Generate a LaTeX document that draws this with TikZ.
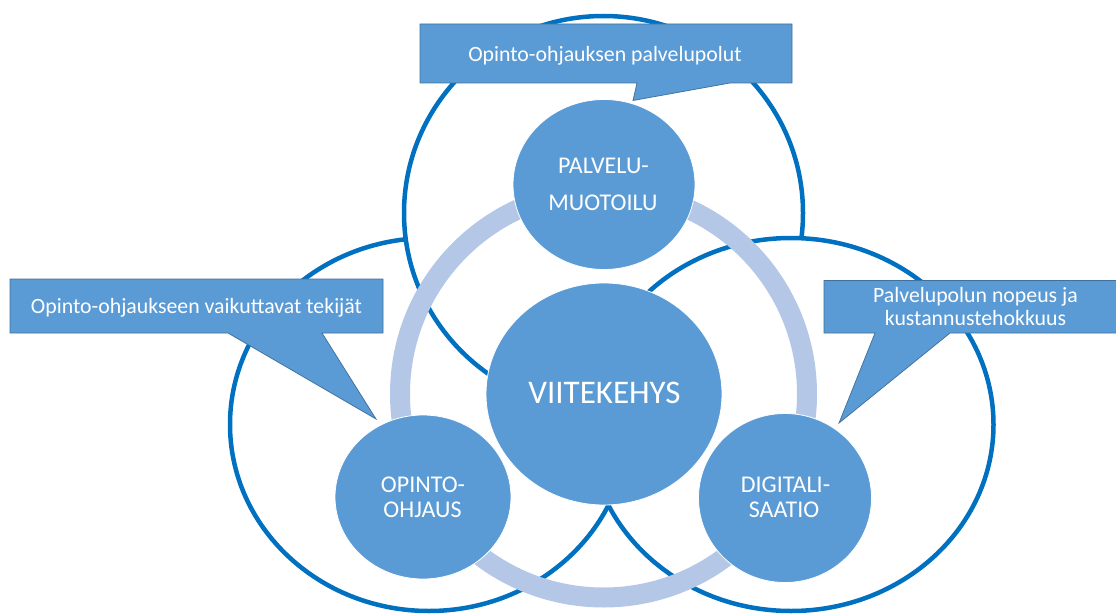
\documentclass[tikz,border=0pt]{standalone}
\usepackage{fontspec}
\setmainfont{Carlito}
\usetikzlibrary{shapes.geometric}
\definecolor{outl}{HTML}{0070C0}
\definecolor{fillb}{HTML}{5B9BD5}
\definecolor{ringc}{HTML}{B4C7E7}
\definecolor{callb}{HTML}{41719C}
\begin{document}
\begin{tikzpicture}[x=1pt,y=-1pt,
  outline/.style={ellipse, draw=outl, line width=4.5pt, fill=white, inner sep=0pt, outer sep=0pt},
  disc/.style={ellipse, fill=fillb, draw=white, line width=0.8pt, inner sep=0pt, outer sep=0pt},
  lbl/.style={text=white, anchor=base, inner sep=0pt, font=\fontsize{24}{28}\selectfont},
  biglbl/.style={text=white, anchor=base, inner sep=0pt, font=\fontsize{33}{38}\selectfont},
  callout/.style={fill=fillb, draw=callb, line width=0.75pt, line join=miter},
  ctext/.style={text=white, anchor=base, inner sep=0pt, font=\fontsize{21.8}{26}\selectfont}]
\useasboundingbox (0,0) rectangle (1116,615);
\clip (0,0) rectangle (1116,615);

% outline circles (back to front)
\node[outline, minimum width=398pt, minimum height=373pt] (leftc) at (429,424.5) {};
\node[outline, minimum width=399pt, minimum height=394pt] (topc) at (603.5,213) {};
\node[outline, minimum width=405pt, minimum height=373pt] (rightc) at (791,424.5) {};

% ring
\node[circle, draw=ringc, line width=20pt, minimum size=407pt, inner sep=0pt] (ring) at (603.5,394) {};

% discs
\node[disc, minimum width=236pt, minimum height=222pt] (center) at (604,394) {};
\node[disc, minimum width=182pt, minimum height=170pt] (palvelu) at (604,184.5) {};
\node[disc, minimum width=176pt, minimum height=164pt] (opinto) at (423,497) {};
\node[disc, minimum width=173pt, minimum height=169pt] (digi) at (785,498) {};

% disc labels
\node[biglbl] (tc) at (604.5,403) {VIITEKEHYS};
\node[lbl] (t1a) at (603.5,173) {PALVELU-};
\node[lbl] (t1b) at (603,210) {MUOTOILU};
\node[lbl] (t2a) at (423,492) {OPINTO-};
\node[lbl] (t2b) at (422.5,517) {OHJAUS};
\node[lbl] (t3a) at (785.5,492) {DIGITALI-};
\node[lbl] (t3b) at (784,517) {SAATIO};

% callouts
\draw[callout] (420,24) -- (792,24) -- (792,83) -- (730,83) -- (633,100.5) -- (637,83) -- (420,83) -- cycle;
\draw[callout] (10,279) -- (383,279) -- (383,333) -- (322,333) -- (376,419) -- (228,333) -- (10,333) -- cycle;
\draw[callout] (824,280.5) -- (1130,280.5) -- (1130,333) -- (950,333) -- (839,423) -- (875,333) -- (824,333) -- cycle;

\node[ctext] (c1) at (605,62) {Opinto-ohjauksen palvelupolut};
\node[ctext] (c2) at (196.5,313) {Opinto-ohjaukseen vaikuttavat tekijät};
\node[ctext] (c3a) at (975.5,302) {Palvelupolun nopeus ja};
\node[ctext] (c3b) at (975.5,325) {kustannustehokkuus};
\end{tikzpicture}
\end{document}
